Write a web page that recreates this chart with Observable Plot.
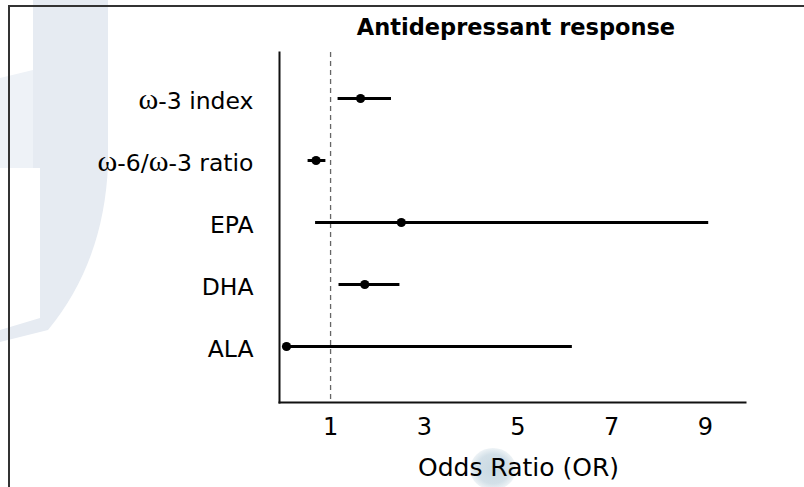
<!DOCTYPE html>
<html>
<head>
<meta charset="utf-8">
<script src="https://cdn.jsdelivr.net/npm/d3@7"></script>
<script src="https://cdn.jsdelivr.net/npm/@observablehq/plot@0.6"></script>
<style>
  html, body { margin: 0; padding: 0; background: #fff; }
  #wrap { position: relative; width: 804px; height: 487px; overflow: hidden; background: #fff; }
  #wm { position: absolute; left: 0; top: 0; width: 804px; height: 487px; z-index: 0; }
  #border { position: absolute; left: 8px; top: 5px; right: -4px; bottom: -4px; border-top: 2px solid #333; border-left: 2px solid #333; z-index: 3; pointer-events: none; }
  #title { position: relative; z-index: 2; height: 46px; box-sizing: border-box; padding-top: 14px; padding-left: 228px; text-align: center; font-family: "DejaVu Sans", sans-serif; font-weight: bold; font-size: 22.5px; line-height: 26px; color: #000; white-space: nowrap; }
  #chart { position: relative; z-index: 2; }
</style>
</head>
<body>
<div id="wrap">
  <svg id="wm" width="804" height="487">
    <defs>
      <radialGradient id="blob">
        <stop offset="0%" stop-color="#c9d9e2"></stop>
        <stop offset="70%" stop-color="#d3e0e8"></stop>
        <stop offset="100%" stop-color="#eef3f6"></stop>
      </radialGradient>
    </defs>
    <path d="M0,78 L33,70 L33,168 L0,168 Z" fill="#eef2f7"></path>
    <path d="M33,0 L108,0 L108,165 Q104,262 48,330 L0,342 L0,330 L40,318 L40,168 L33,168 Z" fill="#e6ebf2"></path>
    <ellipse cx="493" cy="469" rx="23" ry="21" fill="url(#blob)"></ellipse>
  </svg>
  <div id="border"></div>
  <div id="title">Antidepressant response</div>
  <div id="chart"></div>
</div>
<script>
// Data
const measures = ["ω-3 index", "ω-6/ω-3 ratio", "EPA", "DHA", "ALA"];
const oddsRatio = [1.64, 0.69, 2.51, 1.73, 0.06];
const ciLow = [1.16, 0.52, 0.68, 1.18, 0.06];
const ciHigh = [2.30, 0.90, 9.07, 2.48, 6.16];
const xTicks = [1, 3, 5, 7, 9];
const xLabel = "Odds Ratio (OR)";
const referenceLine = [1];

const rows = measures.map((m, i) => ({measure: m, or: oddsRatio[i], lo: ciLow[i], hi: ciHigh[i]}));

const chart = Plot.plot({
  width: 804,
  height: 441,
  marginLeft: 279,
  marginRight: 59,
  marginTop: 6,
  marginBottom: 85,
  style: {background: "transparent", fontFamily: "'DejaVu Sans', sans-serif", color: "#000"},
  x: {domain: [-0.09, 9.855]},
  y: {type: "point", domain: measures, padding: 0, insetTop: 45.5, insetBottom: 56.3},
  marks: [
    Plot.ruleX(referenceLine, {stroke: "#666", strokeWidth: 1.3, strokeDasharray: "5,4"}),
    Plot.frame({anchor: "left", stroke: "#111", strokeWidth: 2}),
    Plot.frame({anchor: "bottom", stroke: "#111", strokeWidth: 2}),
    Plot.axisX({ticks: xTicks, tickSize: 0, tickPadding: 15, fontSize: 24, label: null}),
    Plot.axisY({tickSize: 0, tickPadding: 26, fontSize: 23.5, label: null, dy: 3}),
    Plot.text([xLabel], {frameAnchor: "bottom", dx: 6, dy: 65, lineAnchor: "middle", fontSize: 25, fill: "#000"}),
    Plot.ruleY(rows, {y: "measure", x1: "lo", x2: "hi", stroke: "#000", strokeWidth: 3}),
    Plot.dot(rows, {y: "measure", x: "or", r: 4.6, fill: "#000", stroke: "none"})
  ]
});

// Render the omega glyph in a serif face, as in the reference
chart.querySelectorAll("text").forEach(t => {
  if (t.children.length === 0 && t.textContent.includes("ω")) {
    const parts = t.textContent.split(/(ω)/);
    t.textContent = "";
    parts.forEach(p => {
      if (!p) return;
      const ts = document.createElementNS("http://www.w3.org/2000/svg", "tspan");
      ts.textContent = p;
      if (p === "ω") {
        ts.setAttribute("font-family", "'Liberation Serif', 'Times New Roman', serif");
        ts.setAttribute("font-size", "30");
      }
      t.appendChild(ts);
    });
  }
});
document.getElementById("chart").appendChild(chart);
</script>
</body>
</html>
